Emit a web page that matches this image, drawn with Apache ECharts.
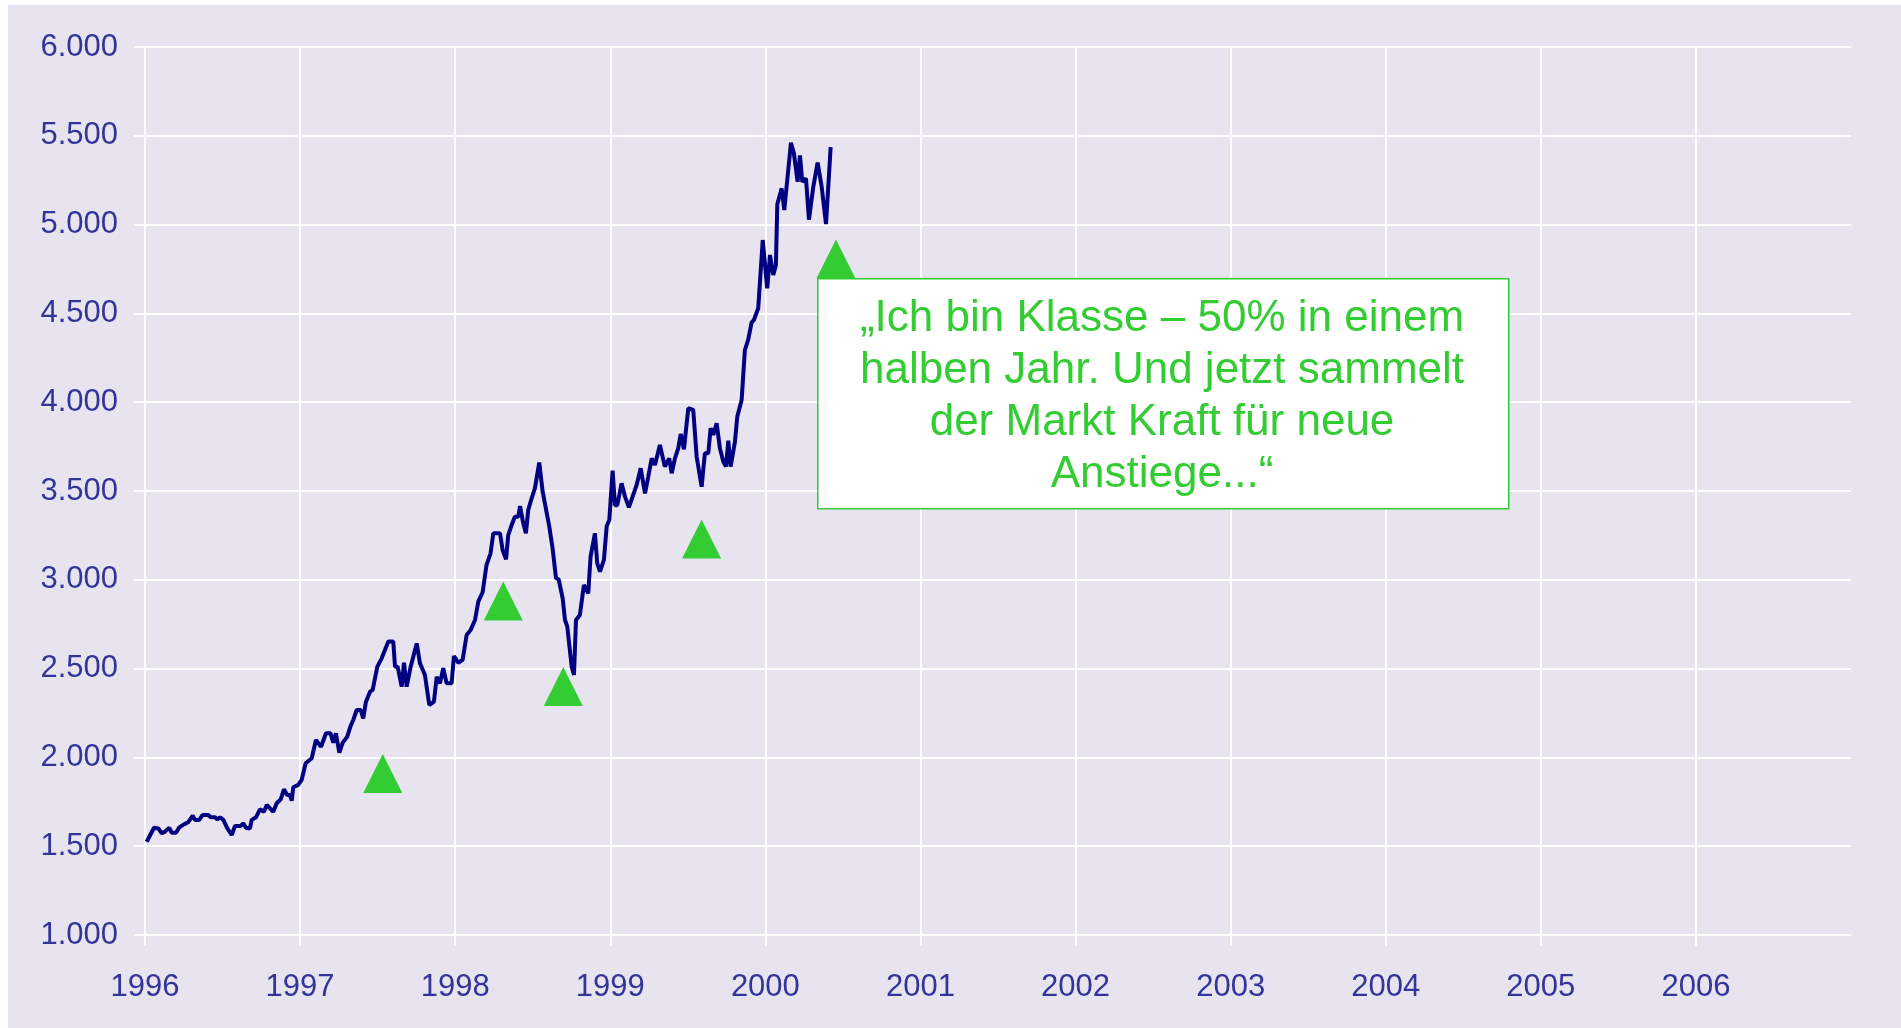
<!DOCTYPE html>
<html>
<head>
<meta charset="utf-8">
<script src="https://cdn.jsdelivr.net/npm/echarts@6/dist/echarts.min.js"></script>
<style>
  html, body { margin: 0; padding: 0; background: #fff; }
  #chart { position: absolute; left: 8px; top: 5px; width: 1893px; height: 1023px; }
</style>
</head>
<body>
<div id="chart"></div>
<script>
// Zeit in Dezimaljahren, Indexstand
let dates = [1996.011, 1996.058, 1996.086, 1996.108, 1996.129, 1996.157, 1996.172, 1996.200, 1996.221, 1996.251,
  1996.279, 1996.308, 1996.322, 1996.350, 1996.372, 1996.408, 1996.424, 1996.451, 1996.466, 1996.484,
  1996.505, 1996.531, 1996.559, 1996.580, 1996.617, 1996.634, 1996.651, 1996.677, 1996.688, 1996.716,
  1996.741, 1996.767, 1996.785, 1996.806, 1996.827, 1996.849, 1996.875, 1996.896, 1996.917, 1996.935,
  1996.946, 1996.956, 1996.988, 1997.010, 1997.036, 1997.075, 1997.102, 1997.135, 1997.167, 1997.196,
  1997.214, 1997.231, 1997.253, 1997.275, 1997.304, 1997.326, 1997.343, 1997.365, 1997.391, 1997.407,
  1997.425, 1997.451, 1997.468, 1997.498, 1997.526, 1997.569, 1997.601, 1997.612, 1997.629, 1997.655,
  1997.670, 1997.687, 1997.713, 1997.752, 1997.773, 1997.805, 1997.833, 1997.863, 1997.881, 1997.902,
  1997.923, 1997.945, 1997.977, 1997.992, 1998.020, 1998.048, 1998.074, 1998.100, 1998.128, 1998.149,
  1998.177, 1998.202, 1998.228, 1998.246, 1998.289, 1998.306, 1998.328, 1998.342, 1998.364, 1998.385,
  1998.407, 1998.418, 1998.439, 1998.456, 1998.471, 1998.493, 1998.514, 1998.542, 1998.564, 1998.607,
  1998.628, 1998.650, 1998.667, 1998.693, 1998.708, 1998.723, 1998.751, 1998.766, 1998.779, 1998.804,
  1998.830, 1998.858, 1998.873, 1998.901, 1998.916, 1998.934, 1998.959, 1998.977, 1998.994, 1999.015,
  1999.030, 1999.045, 1999.073, 1999.095, 1999.120, 1999.144, 1999.170, 1999.196, 1999.224, 1999.245,
  1999.267, 1999.288, 1999.320, 1999.352, 1999.380, 1999.396, 1999.417, 1999.438, 1999.454, 1999.475,
  1999.503, 1999.535, 1999.557, 1999.589, 1999.610, 1999.632, 1999.647, 1999.664, 1999.686, 1999.707,
  1999.729, 1999.746, 1999.761, 1999.776, 1999.804, 1999.819, 1999.847, 1999.868, 1999.890, 1999.911,
  1999.926, 1999.954, 1999.983, 2000.012, 2000.030, 2000.051, 2000.068, 2000.077, 2000.105, 2000.122,
  2000.165, 2000.184, 2000.208, 2000.223, 2000.238, 2000.262, 2000.281, 2000.309, 2000.337, 2000.363,
  2000.391, 2000.421];
let values = [1525, 1604, 1600, 1573, 1582, 1604, 1576, 1576, 1606, 1623,
  1635, 1672, 1648, 1648, 1676, 1676, 1663, 1663, 1651, 1663,
  1648, 1600, 1563, 1614, 1614, 1629, 1604, 1600, 1648, 1663,
  1708, 1694, 1732, 1713, 1694, 1742, 1764, 1820, 1788, 1788,
  1756, 1832, 1845, 1873, 1967, 1995, 2098, 2060, 2136, 2136,
  2083, 2136, 2027, 2083, 2117, 2177, 2211, 2267, 2267, 2220,
  2314, 2370, 2380, 2511, 2558, 2652, 2652, 2511, 2511, 2398,
  2533, 2398, 2511, 2642, 2530, 2464, 2295, 2314, 2454, 2417,
  2502, 2417, 2417, 2571, 2533, 2549, 2689, 2718, 2774, 2877,
  2930, 3083, 3149, 3262, 3262, 3168, 3115, 3252, 3308, 3355,
  3355, 3415, 3318, 3262, 3393, 3459, 3515, 3660, 3496, 3299,
  3178, 3009, 3003, 2896, 2774, 2736, 2511, 2464, 2774, 2802,
  2971, 2924, 3130, 3262, 3093, 3046, 3112, 3303, 3337, 3614,
  3420, 3420, 3543, 3468, 3408, 3468, 3534, 3628, 3487, 3581,
  3684, 3647, 3759, 3637, 3684, 3600, 3684, 3740, 3821, 3735,
  3966, 3957, 3693, 3524, 3712, 3712, 3853, 3816, 3881, 3740,
  3665, 3637, 3784, 3637, 3778, 3919, 4012, 4294, 4354, 4448,
  4463, 4529, 4913, 4641, 4829, 4716, 4773, 5115, 5204, 5082,
  5461, 5401, 5241, 5390, 5241, 5260, 5028, 5213, 5349, 5213,
  5003, 5436];

// grüne Dreiecke
let markerDates = [1997.533, 1998.310, 1998.697, 1999.589, 2000.455];
let markerValues = [1909, 2881, 2399, 3230, 4806];

let yearTicks = [1996, 1997, 1998, 1999, 2000, 2001, 2002, 2003, 2004, 2005, 2006];

let noteLines = ['\u201EIch bin Klasse \u2013 50% in einem', 'halben Jahr. Und jetzt sammelt', 'der Markt Kraft für neue', 'Anstiege...\u201C'];

let font = 'Liberation Sans, Arial, sans-serif';
let labelColor = '#333399';
let green = '#33cc33';

function fmt(v) {
  return String(v).replace(/\B(?=(\d{3})+(?!\d))/g, '.');
}

let option = {
  backgroundColor: '#e7e4f0',
  animation: false,
  grid: {
    left: 137,
    right: 50,
    top: 42,
    bottom: 93
  },
  xAxis: {
    type: 'value',
    min: 1996,
    max: 2007,
    interval: 1,
    axisLine: { show: false },
    axisTick: {
      show: true,
      length: 11,
      customValues: yearTicks,
      lineStyle: { color: '#fff', width: 2 }
    },
    splitLine: { lineStyle: { color: '#fff', width: 2 } },
    axisLabel: {
      customValues: yearTicks,
      margin: 37,
      color: labelColor,
      fontSize: 31,
      fontFamily: font,
      formatter: v => String(v)
    }
  },
  yAxis: {
    type: 'value',
    min: 1000,
    max: 6000,
    interval: 500,
    axisLine: { show: false },
    axisTick: {
      show: true,
      length: 11,
      lineStyle: { color: '#fff', width: 2 }
    },
    splitLine: { lineStyle: { color: '#fff', width: 2 } },
    axisLabel: {
      margin: 27,
      color: labelColor,
      fontSize: 31,
      fontFamily: font,
      formatter: fmt
    }
  },
  series: [{
    type: 'line',
    data: dates.map((d, i) => [d, values[i]]),
    showSymbol: false,
    symbol: 'none',
    lineStyle: { color: '#000080', width: 4 },
    z: 3
  }, {
    type: 'scatter',
    data: markerDates.map((d, i) => [d, markerValues[i]]),
    symbol: 'triangle',
    symbolSize: [39, 39],
    itemStyle: { color: green, opacity: 1 },
    emphasis: { disabled: true },
    z: 4
  }],
  graphic: [{
    type: 'rect',
    left: 809,
    top: 273,
    z: 100,
    shape: { x: 0, y: 0, width: 691, height: 230 },
    style: { fill: '#fff', stroke: green, lineWidth: 1.5 }
  }, {
    type: 'text',
    z: 101,
    x: 1154,
    y: 392,
    style: {
      text: noteLines.join('\n'),
      fill: green,
      font: '44px ' + font,
      lineHeight: 52,
      align: 'center',
      verticalAlign: 'middle'
    }
  }]
};

let chart = echarts.init(document.getElementById('chart'));
chart.setOption(option);
</script>
</body>
</html>
